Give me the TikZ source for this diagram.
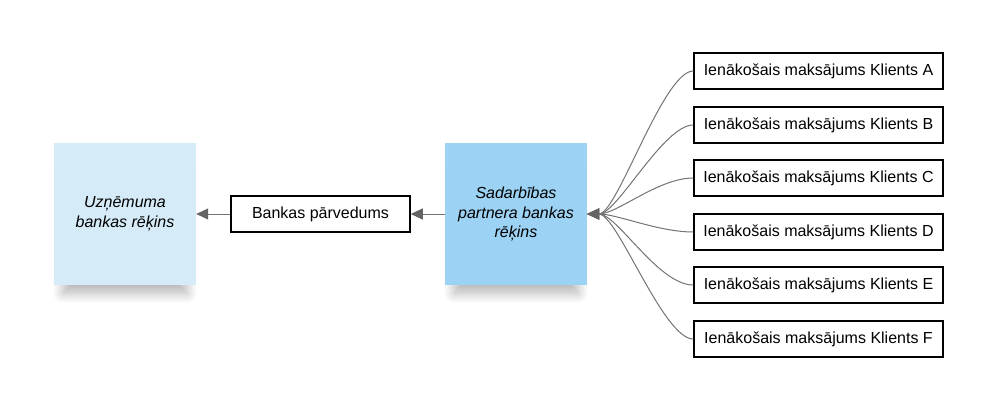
\documentclass[tikz,border=0pt]{standalone}
\usepackage{fontspec}
\setmainfont{Liberation Sans}
\usetikzlibrary{arrows.meta,shadows.blur}
\definecolor{paleblue}{RGB}{213,235,248}
\definecolor{midblue}{RGB}{156,210,243}
\definecolor{linegray}{RGB}{115,115,115}
\definecolor{tipgray}{RGB}{100,100,100}
\begin{document}
\begin{tikzpicture}[x=1pt, y=-1pt,
	font=\fontsize{16}{19.6}\selectfont,
	account/.style={minimum width=142pt, minimum height=142pt, inner sep=0pt, align=center, font=\fontsize{16}{19.6}\selectfont\itshape, blur shadow={shadow xshift=0pt, shadow yshift=-20pt, shadow scale=0.87, shadow opacity=30, shadow blur radius=12pt, shadow blur steps=16}},
	payment/.style={draw, line width=1.5pt, minimum width=249pt, minimum height=36pt, inner sep=0pt},
	link/.style={draw=linegray, line width=1pt, -{Triangle[length=12pt, width=11pt, fill=tipgray, color=tipgray]}}]

	\useasboundingbox (0,0) rectangle (998,418);

	% accounts
	\node [account, fill=paleblue] (company) at (125,214) {Uzņēmuma\\bankas rēķins};
	\node [account, fill=midblue] (partner) at (516,214) {Sadarbības\\partnera bankas\\rēķins};

	% transfer
	\node [draw, line width=1.5pt, minimum width=179pt, minimum height=36pt, inner sep=0pt] (transfer) at (320.5,214) {Bankas pārvedums};
	\draw [link] (partner) -- (transfer);
	\draw [link] (transfer) -- (company);

	% incoming payments
	\node [payment] (ca) at (818.5,71) {Ienākošais maksājums Klients A};
	\node [payment] (cb) at (818.5,125) {Ienākošais maksājums Klients B};
	\node [payment] (cc) at (818.5,178) {Ienākošais maksājums Klients C};
	\node [payment] (cd) at (818.5,232) {Ienākošais maksājums Klients D};
	\node [payment] (ce) at (818.5,285) {Ienākošais maksājums Klients E};
	\node [payment] (cf) at (818.5,339) {Ienākošais maksājums Klients F};

	\draw [link] (ca.west) .. controls +(-30,0) and +(30,0) .. (partner.east);
	\draw [link] (cb.west) .. controls +(-30,0) and +(30,0) .. (partner.east);
	\draw [link] (cc.west) .. controls +(-35,0) and +(30,0) .. (partner.east);
	\draw [link] (cd.west) .. controls +(-35,0) and +(30,0) .. (partner.east);
	\draw [link] (ce.west) .. controls +(-35,0) and +(30,0) .. (partner.east);
	\draw [link] (cf.west) .. controls +(-30,0) and +(30,0) .. (partner.east);

\end{tikzpicture}
\end{document}
